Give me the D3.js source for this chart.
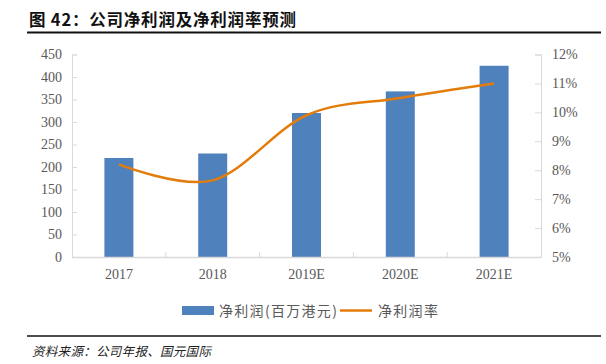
<!DOCTYPE html>
<html><head><meta charset="utf-8">
<script src="https://cdn.jsdelivr.net/npm/d3@7/dist/d3.min.js"></script>
<style>body{margin:0;background:#fff}svg{display:block}</style>
</head><body>
<svg id="c" width="606" height="364"></svg>
<script>
const categories = ["2017", "2018", "2019E", "2020E", "2021E"];
const netProfit = [220, 230, 320, 368, 425];
const netMargin = [0.082, 0.0765, 0.099, 0.105, 0.110];
const leftTicks = [0, 50, 100, 150, 200, 250, 300, 350, 400, 450];
const rightTicks = [0.05, 0.06, 0.07, 0.08, 0.09, 0.10, 0.11, 0.12];

const svg = d3.select("#c");
const L = 72, R = 541, T = 54.5, B = 257;
const x = d3.scaleBand().domain(categories).range([L, R]).paddingInner(0).paddingOuter(0);
const yL = d3.scaleLinear().domain([0, 450]).range([B, T]);
const yR = d3.scaleLinear().domain([0.05, 0.12]).range([B, T]);
const grey = "#d9d9d9", txt = "#595959";
const serif = "'Liberation Serif','Times New Roman',serif";
const cjk = "'Noto Sans CJK SC',sans-serif";

// title
svg.append("text").attr("x", 29).attr("y", 26).attr("font-family", cjk).attr("font-weight", "bold")
  .attr("font-size", 16.5).attr("letter-spacing", 0.8).attr("fill", "#111").text("图 42：公司净利润及净利润率预测");
svg.append("line").attr("x1", 27).attr("x2", 601).attr("y1", 32.5).attr("y2", 32.5).attr("stroke", "#111").attr("stroke-width", 2);

// bars
const bw = 29;
svg.append("g").selectAll("rect").data(netProfit).join("rect")
  .attr("x", (d, i) => x(categories[i]) + x.bandwidth() / 2 - bw / 2)
  .attr("width", bw)
  .attr("y", d => yL(d)).attr("height", d => B - yL(d))
  .attr("fill", "#4f81bd");

// axes
const gL = svg.append("g").attr("transform", `translate(${L},0)`)
  .call(d3.axisLeft(yL).tickValues(leftTicks).tickSize(-5).tickPadding(10));
const gR = svg.append("g").attr("transform", `translate(${R},0)`)
  .call(d3.axisRight(yR).tickValues(rightTicks).tickSize(-6).tickPadding(11).tickFormat(d => Math.round(d * 100) + "%"));
const gX = svg.append("g").attr("transform", `translate(0,${B})`)
  .call(d3.axisBottom(x).tickSize(0).tickPadding(12));
// category separators
svg.append("g").selectAll("line").data(categories.slice(1)).join("line")
  .attr("x1", d => x(d)).attr("x2", d => x(d)).attr("y1", B).attr("y2", B - 5)
  .attr("stroke", grey);
[gL, gR, gX].forEach(g => {
  g.selectAll("path").attr("stroke", grey).attr("stroke-width", 1);
  g.selectAll("line").attr("stroke", grey);
  g.selectAll("text").attr("font-family", serif).attr("font-size", 14).attr("fill", txt);
});
gX.select("path").attr("d", `M${L},0.5H${R}`).attr("stroke-width", 1.5);

// line
const line = d3.line()
  .x((d, i) => x(categories[i]) + x.bandwidth() / 2)
  .y(d => yR(d))
  .curve(d3.curveCatmullRom.alpha(0));
svg.append("path").datum(netMargin).attr("d", line)
  .attr("fill", "none").attr("stroke", "#e47c0b").attr("stroke-width", 2.5);

// legend
svg.append("rect").attr("x", 182).attr("y", 306).attr("width", 32).attr("height", 9).attr("fill", "#4f81bd");
svg.append("text").attr("x", 219).attr("y", 315.5).attr("font-family", cjk).attr("font-size", 14)
  .attr("letter-spacing", 1.3).attr("fill", txt).text("净利润(百万港元)");
svg.append("line").attr("x1", 340).attr("x2", 372).attr("y1", 310.5).attr("y2", 310.5).attr("stroke", "#e47c0b").attr("stroke-width", 2.5);
svg.append("text").attr("x", 378).attr("y", 315.5).attr("font-family", cjk).attr("font-size", 14)
  .attr("letter-spacing", 1.3).attr("fill", txt).text("净利润率");

// footer
svg.append("line").attr("x1", 27).attr("x2", 601).attr("y1", 336).attr("y2", 336).attr("stroke", "#111").attr("stroke-width", 1.5);
svg.append("text").attr("x", 32).attr("y", 356).attr("font-family", cjk).attr("font-style", "italic")
  .attr("font-size", 12.5).attr("letter-spacing", 0.3).attr("fill", "#222").text("资料来源：公司年报、国元国际");
</script>
</body></html>
